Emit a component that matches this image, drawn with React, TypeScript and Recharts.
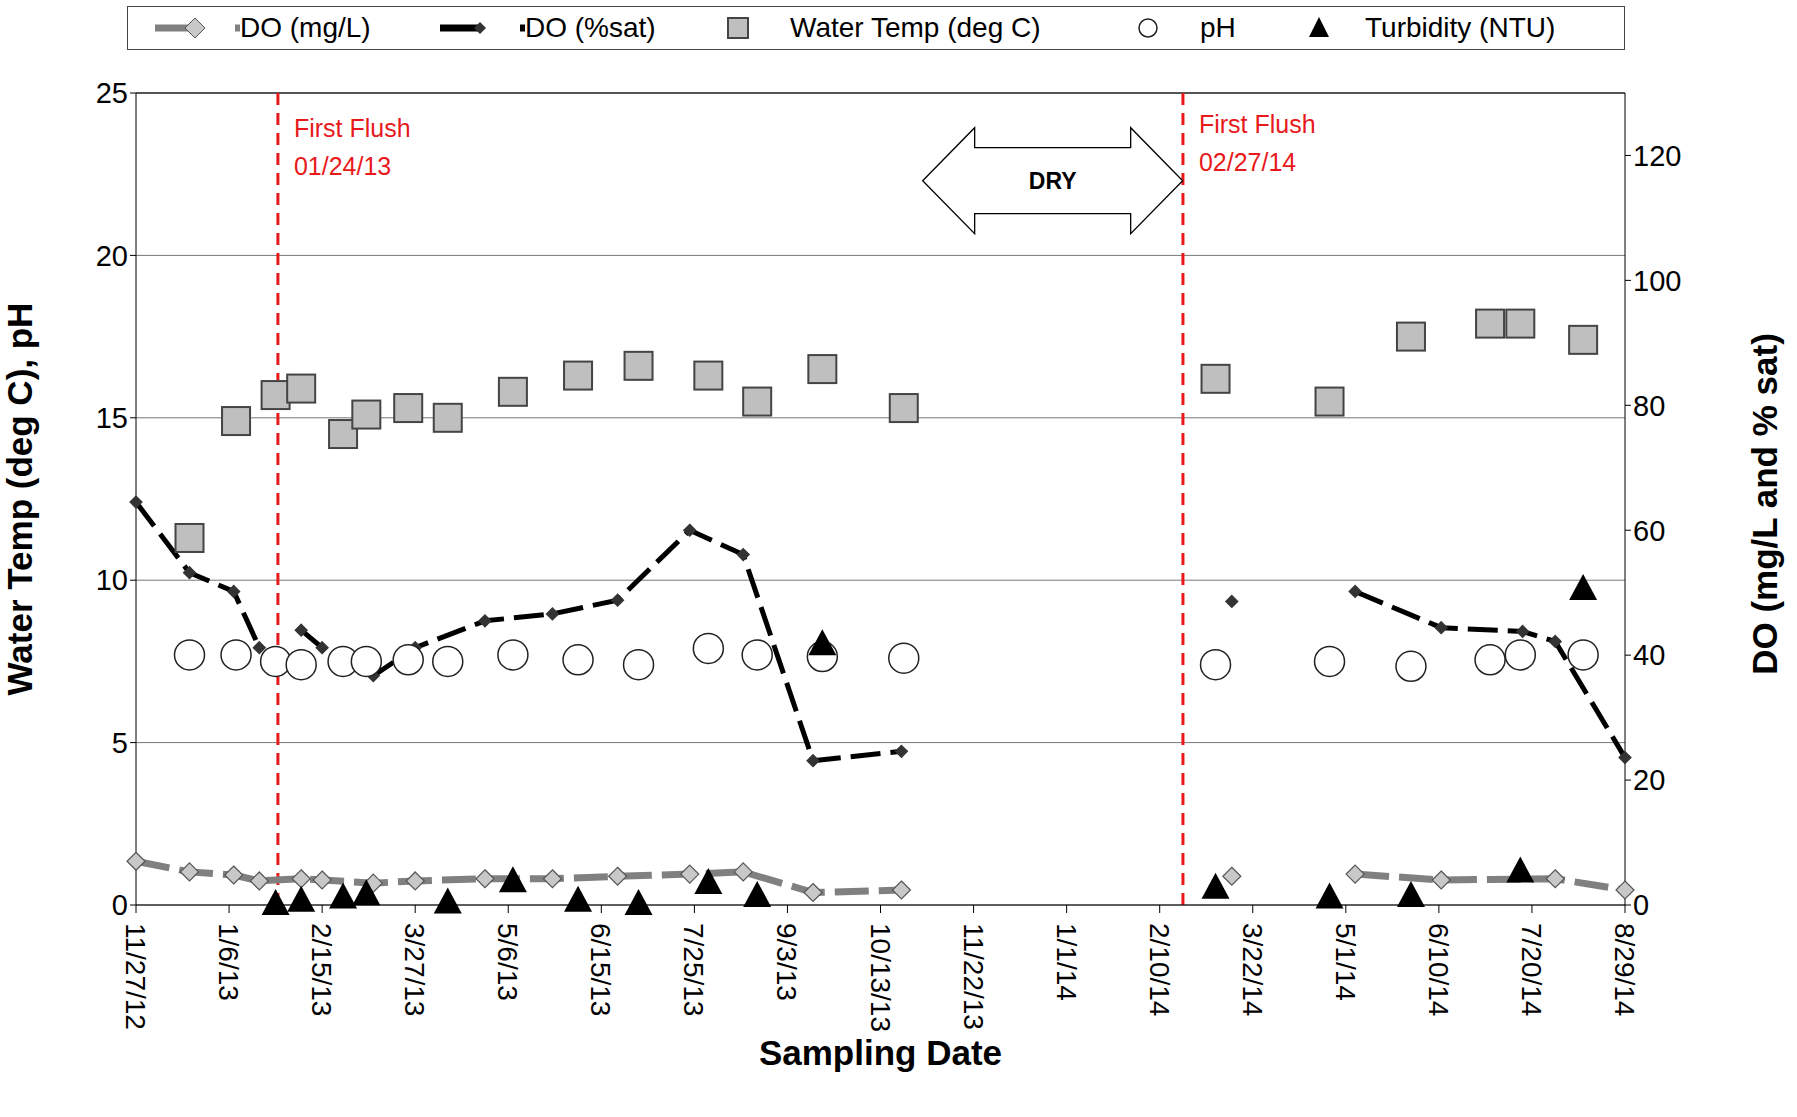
import React from "react";
import {
  ComposedChart, Line, Scatter, XAxis, YAxis, CartesianGrid, ReferenceLine, ReferenceDot,
} from "recharts";

// day offsets from 11/27/12
const doSatDays = [0, 23, 42, 53, 58, 71, 80, 102, 120, 150, 179, 207, 238, 261, 291, 329, 400, 471, 500, 524, 561, 596, 610, 640];
const doSatVals = [64.5, 53.2, 50.2, 41.2, null, 44, 41.2, 36.7, 41.2, 45.5, 46.6, 48.8, 60, 56.1, 23.1, 24.6, null, 48.6, null, 50.2, 44.4, 43.8, 42.2, 23.6];
const doMgDays = [0, 23, 42, 53, 71, 80, 102, 120, 150, 179, 207, 238, 261, 291, 329, 400, 471, 500, 524, 561, 610, 640];
const doMgVals = [7.0, 5.3, 4.8, 3.85, 4.2, 4.0, 3.5, 3.85, 4.2, 4.2, 4.6, 4.95, 5.3, 2.0, 2.4, null, 4.6, null, 4.95, 4.0, 4.2, 2.4];
const tempDays = [23, 43, 60, 71, 89, 99, 117, 134, 162, 190, 216, 246, 267, 295, 330, 464, 513, 548, 582, 595, 622];
const tempVals = [11.3, 14.9, 15.7, 15.9, 14.5, 15.1, 15.3, 15.0, 15.8, 16.3, 16.6, 16.3, 15.5, 16.5, 15.3, 16.2, 15.5, 17.5, 17.9, 17.9, 17.4];
const phVals = [7.7, 7.7, 7.5, 7.4, 7.5, 7.5, 7.55, 7.5, 7.7, 7.55, 7.4, 7.9, 7.7, 7.65, 7.6, 7.4, 7.5, 7.35, 7.55, 7.7, 7.7];
const turbDays = [60, 71, 89, 99, 134, 162, 190, 216, 246, 267, 295, 464, 513, 548, 595, 622];
const turbVals = [0, 0.1, 0.2, 0.3, 0.05, 0.7, 0.1, 0, 0.65, 0.25, 8.0, 0.5, 0.2, 0.25, 1.0, 9.7];
const xTickLabels = ["11/27/12", "1/6/13", "2/15/13", "3/27/13", "5/6/13", "6/15/13", "7/25/13", "9/3/13", "10/13/13", "11/22/13", "1/1/14", "2/10/14", "3/22/14", "5/1/14", "6/10/14", "7/20/14", "8/29/14"];
const xTicks = xTickLabels.map((_, i) => i * 40);
const leftTicks = [0, 5, 10, 15, 20, 25];
const rightTicks = [0, 20, 40, 60, 80, 100, 120];
const flushDays = [61, 450];
const flushLabels = [["First Flush", "01/24/13"], ["First Flush", "02/27/14"]];

const doSat = doSatDays.map((d, i) => ({ day: d, v: doSatVals[i] }));
const doMg = doMgDays.map((d, i) => ({ day: d, v: doMgVals[i] }));
const temp = tempDays.map((d, i) => ({ day: d, v: tempVals[i] }));
const ph = tempDays.map((d, i) => ({ day: d, v: phVals[i] }));
const turb = turbDays.map((d, i) => ({ day: d, v: turbVals[i] }));

const FONT = "Arial, 'Liberation Sans', sans-serif";

const Diamond = ({ cx, cy, r, fill, stroke }: any) =>
  cx == null || cy == null ? null : (
    <polygon points={`${cx},${cy - r} ${cx + r},${cy} ${cx},${cy + r} ${cx - r},${cy}`} fill={fill} stroke={stroke} strokeWidth={1.2} />
  );

const Square = (p: any) => <rect x={p.cx - 14} y={p.cy - 14} width={28} height={28} fill="#bfbfbf" stroke="#444" strokeWidth={2} />;
const Circle = (p: any) => <circle cx={p.cx} cy={p.cy} r={15} fill="#fff" stroke="#222" strokeWidth={1.5} />;
const Tri = (p: any) => <polygon points={`${p.cx},${p.cy - 16} ${p.cx + 14},${p.cy + 10} ${p.cx - 14},${p.cy + 10}`} fill="#000" />;

const Arrow = ({ cx, cy }: any) => {
  const w = 130, h = 53, s = 33, head = 52;
  const pts = [
    [cx - w, cy], [cx - w + head, cy - h], [cx - w + head, cy - s], [cx + w - head, cy - s], [cx + w - head, cy - h],
    [cx + w, cy], [cx + w - head, cy + h], [cx + w - head, cy + s], [cx - w + head, cy + s], [cx - w + head, cy + h],
  ].map((p) => p.join(",")).join(" ");
  return (
    <g>
      <polygon points={pts} fill="#fff" stroke="#000" strokeWidth={1.3} />
      <text x={cx} y={cy + 8} textAnchor="middle" fontFamily={FONT} fontWeight="bold" fontSize={23}>DRY</text>
    </g>
  );
};

const XTick = ({ x, y, payload }: any) => (
  <text x={x} y={y + 8} transform={`rotate(90 ${x} ${y + 8})`} dy={10} textAnchor="start" fontFamily={FONT} fontSize={28} fill="#000">
    {xTickLabels[payload.value / 40]}
  </text>
);

const LegendBox = () => {
  const item = (sym: React.ReactNode, label: string, w: number) => (
    <div style={{ display: "flex", alignItems: "center", width: w }}>
      <svg width={90} height={30}>{sym}</svg>
      <span>{label}</span>
    </div>
  );
  return (
    <div style={{ position: "absolute", left: 127, top: 6, width: 1498, border: "1.5px solid #444", display: "flex", alignItems: "center", height: 44, fontFamily: FONT, fontSize: 28, paddingLeft: 22, boxSizing: "border-box", background: "#fff" }}>
      {item(<g><line x1={5} y1={15} x2={45} y2={15} stroke="#808080" strokeWidth={7} /><polygon points="45,5 55,15 45,25 35,15" fill="#c8c8c8" stroke="#555" /><line x1={85} y1={15} x2={90} y2={15} stroke="#808080" strokeWidth={7} /></g>, "DO (mg/L)", 285)}
      {item(<g><line x1={5} y1={15} x2={45} y2={15} stroke="#000" strokeWidth={7} /><polygon points="45,9 51,15 45,21 39,15" fill="#333" /><line x1={85} y1={15} x2={90} y2={15} stroke="#000" strokeWidth={7} /></g>, "DO (%sat)", 265)}
      {item(<rect x={28} y={5} width={20} height={20} fill="#bfbfbf" stroke="#444" strokeWidth={2} />, "Water Temp (deg C)", 410)}
      {item(<circle cx={38} cy={15} r={9} fill="#fff" stroke="#222" strokeWidth={1.5} />, "pH", 165)}
      {item(<polygon points="44,4 54,24 34,24" fill="#000" />, "Turbidity (NTU)", 300)}
    </div>
  );
};

export default function App() {
  return (
    <div style={{ position: "absolute", left: 0, top: 0, width: 1797, height: 1117, background: "#fff" }}>
      <ComposedChart width={1797} height={1117} margin={{ top: 93, right: 0, left: 0, bottom: 52 }}>
        <CartesianGrid vertical={false} stroke="#777" yAxisId="left" />
        <XAxis
          type="number" dataKey="day" domain={[0, 640]} ticks={xTicks} interval={0} allowDuplicatedCategory={false}
          tick={<XTick />} height={160} stroke="#000" tickSize={8}
          label={{ value: "Sampling Date", position: "insideBottom", offset: 0, fontFamily: FONT, fontWeight: "bold", fontSize: 35, fill: "#000" }}
        />
        <YAxis
          yAxisId="left" domain={[0, 25]} ticks={leftTicks} width={136} stroke="#000"
          tick={{ fontFamily: FONT, fontSize: 29, fill: "#000" }}
          label={(p: any) => {
            const x = p.viewBox.x + 32, y = p.viewBox.y + p.viewBox.height / 2;
            return <text x={x} y={y} transform={`rotate(-90 ${x} ${y})`} textAnchor="middle" fontFamily={FONT} fontWeight="bold" fontSize={35}>Water Temp (deg C), pH</text>;
          }}
        />
        <YAxis
          yAxisId="right" orientation="right" domain={[0, 130]} ticks={rightTicks} width={172} stroke="#000"
          tick={{ fontFamily: FONT, fontSize: 29, fill: "#000" }}
          label={(p: any) => {
            const x = p.viewBox.x + p.viewBox.width - 20, y = p.viewBox.y + p.viewBox.height / 2 + 5;
            return <text x={x} y={y} transform={`rotate(-90 ${x} ${y})`} textAnchor="middle" fontFamily={FONT} fontWeight="bold" fontSize={35}>DO (mg/L and % sat)</text>;
          }}
        />
        <ReferenceLine yAxisId="left" y={25} stroke="#555" strokeWidth={2} />
        {flushDays.map((d, i) => (
          <ReferenceLine key={d} yAxisId="left" x={d} stroke="#e8191b" strokeWidth={3} strokeDasharray="12 8"
            label={(props: any) => (
              <text fontFamily={FONT} fontSize={25} fill="#e8191b">
                <tspan x={props.viewBox.x + 16} y={props.viewBox.y + (i === 0 ? 44 : 40)}>{flushLabels[i][0]}</tspan>
                <tspan x={props.viewBox.x + 16} y={props.viewBox.y + (i === 0 ? 82 : 78)}>{flushLabels[i][1]}</tspan>
              </text>
            )} />
        ))}
        <ReferenceDot yAxisId="left" x={394} y={22.3} shape={<Arrow />} />
        <Line yAxisId="right" data={doMg} dataKey="v" stroke="#808080" strokeWidth={7} strokeDasharray="34 10"
          dot={<Diamond r={9} fill="#c8c8c8" stroke="#555" />} isAnimationActive={false} connectNulls={false} />
        <Line yAxisId="right" data={doSat} dataKey="v" stroke="#000" strokeWidth={5} strokeDasharray="30 10"
          dot={<Diamond r={6} fill="#333" stroke="#333" />} isAnimationActive={false} connectNulls={false} />
        <Scatter yAxisId="left" data={temp} dataKey="v" shape={<Square />} isAnimationActive={false} />
        <Scatter yAxisId="left" data={ph} dataKey="v" shape={<Circle />} isAnimationActive={false} />
        <Scatter yAxisId="left" data={turb} dataKey="v" shape={<Tri />} isAnimationActive={false} />
      </ComposedChart>
      <LegendBox />
    </div>
  );
}
